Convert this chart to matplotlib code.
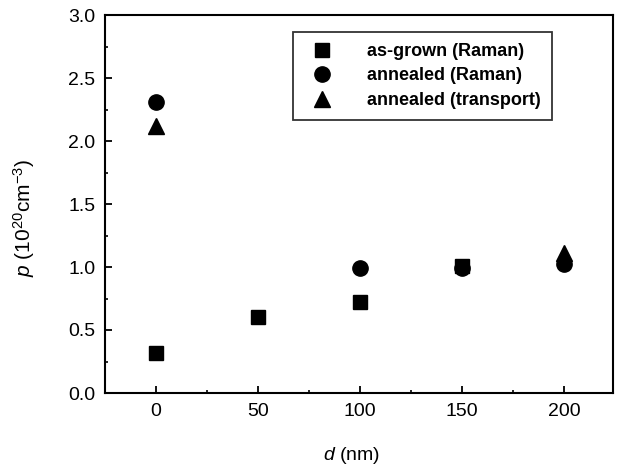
import matplotlib
matplotlib.use("Agg")
import matplotlib.pyplot as plt
from matplotlib.ticker import MultipleLocator

plt.rcParams['font.family'] = ['Liberation Sans', 'DejaVu Sans']
plt.rcParams['mathtext.fontset'] = 'custom'
plt.rcParams['mathtext.rm'] = 'Liberation Sans'
plt.rcParams['mathtext.it'] = 'Liberation Sans:italic'

# Data
asgrown_d = [0, 50, 100, 150]
asgrown_p = [0.32, 0.60, 0.72, 1.01]
annealed_raman_d = [0, 100, 150, 200]
annealed_raman_p = [2.31, 0.99, 0.99, 1.02]
annealed_transport_d = [0, 200]
annealed_transport_p = [2.12, 1.11]

xticks = [0, 50, 100, 150, 200]
yticks = [0.0, 0.5, 1.0, 1.5, 2.0, 2.5, 3.0]

fig = plt.figure(figsize=(6.22, 4.75), dpi=100)
ax = fig.add_axes([105/622, 82/475, 508/622, 378/475])

ax.plot(asgrown_d, asgrown_p, 's', color='black', markersize=10, label='as-grown (Raman)')
ax.plot(annealed_raman_d, annealed_raman_p, 'o', color='black', markersize=11, label='annealed (Raman)')
ax.plot(annealed_transport_d, annealed_transport_p, '^', color='black', markersize=12, label='annealed (transport)')

ax.set_xlim(-25, 224)
ax.set_ylim(0.0, 3.0)
ax.set_xticks(xticks)
ax.set_yticks(yticks)
ax.set_yticklabels([f"{v:.1f}" for v in yticks])
ax.xaxis.set_minor_locator(MultipleLocator(25))
ax.yaxis.set_minor_locator(MultipleLocator(0.25))
ax.tick_params(which='major', direction='in', length=5, width=1.3, labelsize=14, pad=7)
ax.tick_params(which='minor', direction='in', length=2.5, width=1.2)
for s in ax.spines.values():
    s.set_linewidth(1.5)

ax.set_xlabel(r'$d$ (nm)', fontsize=14)
ax.xaxis.set_label_coords(0.486, -0.137)
ax.set_ylabel(r'$p$ (10$^{20}$cm$^{-3}$)', fontsize=15)
ax.yaxis.set_label_coords(-0.133, 0.463)

leg = ax.legend(loc='upper left', bbox_to_anchor=((293 - 105) / 508, (443 - 82) / 378),
                frameon=True, fancybox=False, edgecolor='black',
                prop={'weight': 'bold', 'size': 13}, handletextpad=1.5,
                borderpad=0.6, labelspacing=0.42, handlelength=2.0,
                borderaxespad=0)
leg.get_frame().set_linewidth(1.3)

fig.savefig('out.png', dpi=100)
